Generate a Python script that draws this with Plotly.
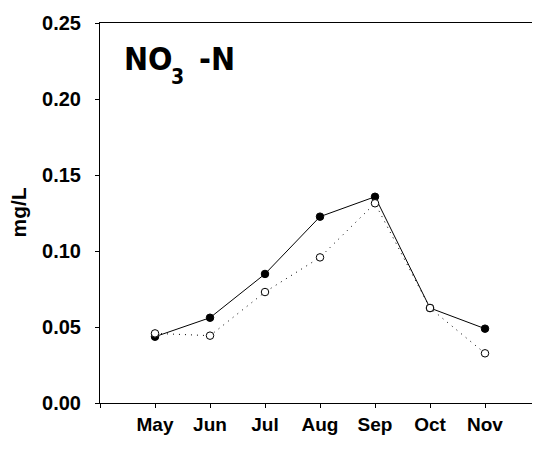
import plotly.graph_objects as go

months = ["May", "Jun", "Jul", "Aug", "Sep", "Oct", "Nov"]
series_filled = [0.0436, 0.0561, 0.0849, 0.1226, 0.1357, 0.0625, 0.0489]
series_open = [0.0458, 0.0443, 0.0730, 0.0958, 0.1314, 0.0625, 0.0327]
y_ticks = [0.00, 0.05, 0.10, 0.15, 0.20, 0.25]

xpos = list(range(1, len(months) + 1))

# plot area in screen pixels (browser body has an 8px margin)
PX0, PX1, PY0, PY1 = 100, 540, 23, 403
OFF = 8


def px(x):
    return (x - PX0) / (PX1 - PX0)


def py(y):
    return (PY1 - y) / (PY1 - PY0)


fig = go.Figure()
fig.add_trace(go.Scatter(
    x=xpos, y=series_filled, mode="lines+markers",
    line=dict(color="black", width=1, dash="solid"),
    marker=dict(symbol="circle", size=7.5, color="black", line=dict(color="black", width=1)),
    showlegend=False, cliponaxis=False,
))
fig.add_trace(go.Scatter(
    x=xpos, y=series_open, mode="lines+markers",
    line=dict(color="black", width=1, dash="1px,5px"),
    marker=dict(symbol="circle", size=7.5, color="white", line=dict(color="black", width=1)),
    showlegend=False, cliponaxis=False,
))

title_font = dict(family="DejaVu Sans Condensed, Liberation Sans Narrow, Liberation Sans", size=32, weight="bold")
sub_font = dict(family="DejaVu Sans Condensed, Liberation Sans Narrow, Liberation Sans", size=21, weight="bold")

fig.update_layout(
    width=540 - OFF, height=454 - OFF,
    margin=dict(l=PX0 - OFF, r=0, t=PY0 - OFF, b=454 - PY1),
    paper_bgcolor="white", plot_bgcolor="white",
    font=dict(family="Liberation Sans, Arial, sans-serif", color="black"),
    xaxis=dict(
        range=[0, 8], tickmode="array",
        tickvals=[0] + xpos, ticktext=[""] + months,
        ticks="outside", ticklen=4, tickcolor="black", tickwidth=1,
        showline=True, linecolor="black", linewidth=1, mirror=True,
        showgrid=False, zeroline=False,
        tickfont=dict(size=19, weight="bold"),
    ),
    yaxis=dict(
        range=[0, 0.25], tickmode="array", tickvals=y_ticks,
        ticktext=[f"{v:.2f}" for v in y_ticks],
        ticks="outside", ticklen=4, tickcolor="black", tickwidth=1,
        showline=True, linecolor="black", linewidth=1,
        showgrid=False, zeroline=False,
        tickfont=dict(size=20, weight="bold"),
        ticklabelstandoff=10,
    ),
    annotations=[
        dict(text="NO", xref="paper", yref="paper", x=px(122), y=py(59),
             xanchor="left", yanchor="middle", showarrow=False, font=title_font),
        dict(text="3", xref="paper", yref="paper", x=px(169), y=py(77),
             xanchor="left", yanchor="middle", showarrow=False, font=sub_font),
        dict(text="-N", xref="paper", yref="paper", x=px(197), y=py(59),
             xanchor="left", yanchor="middle", showarrow=False, font=title_font),
        dict(text="mg/L", xref="paper", yref="paper",
             x=px(4), y=py(213), xanchor="left", yanchor="middle",
             textangle=-90, showarrow=False,
             font=dict(size=21, weight="bold")),
    ],
)

fig.write_html("out.html")
